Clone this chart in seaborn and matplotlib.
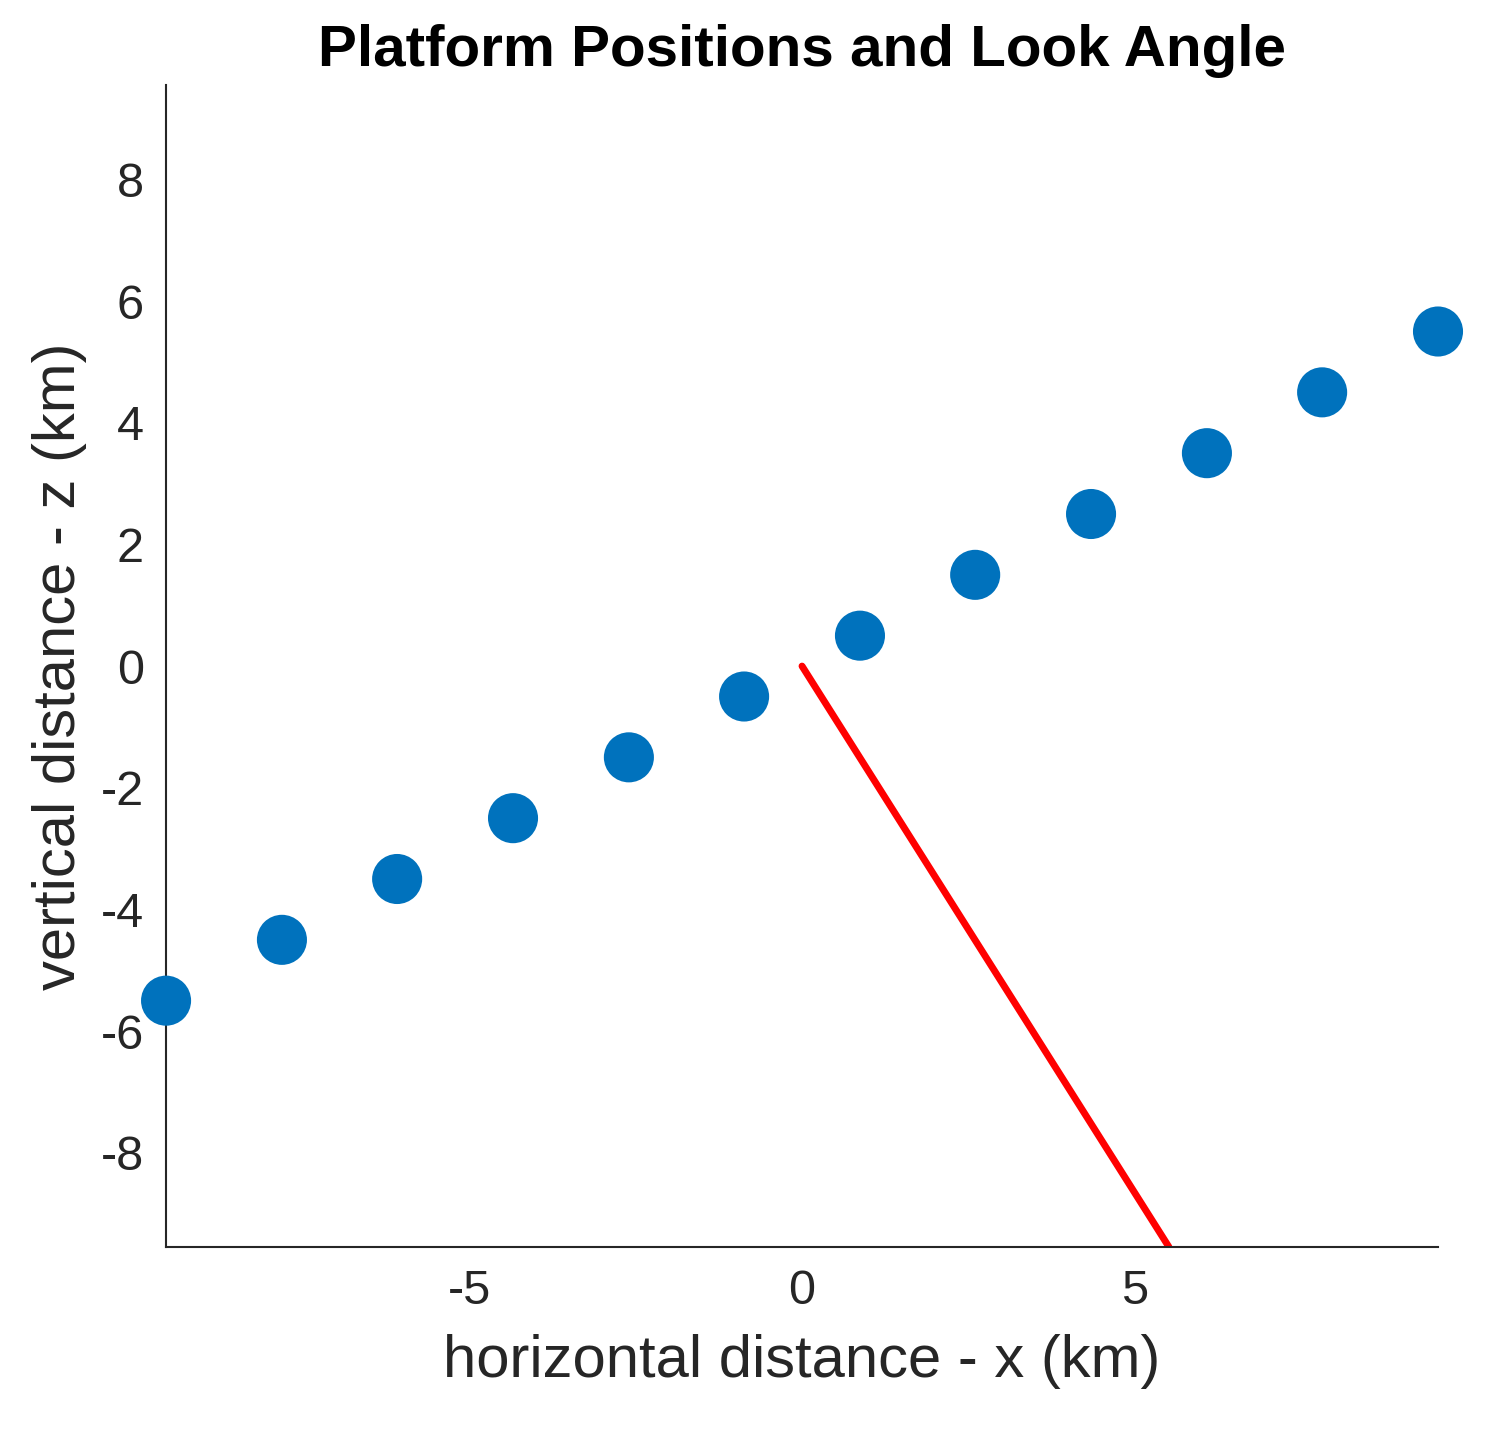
import matplotlib
matplotlib.use("Agg")
import matplotlib.pyplot as plt
import seaborn as sns
import pandas as pd

# platform positions (km)
x_pos = [-9.55, -7.81, -6.08, -4.34, -2.60, -0.87, 0.87, 2.60, 4.34, 6.08, 7.81, 9.55]
z_pos = [-5.5, -4.5, -3.5, -2.5, -1.5, -0.5, 0.5, 1.5, 2.5, 3.5, 4.5, 5.5]
# look angle line
look_x = [0.0, 5.51]
look_z = [0.0, -9.55]

sns.set_style("white")
plt.rcParams['font.family'] = ['Liberation Sans', 'DejaVu Sans']

fig = plt.figure(figsize=(14.88, 14.43), dpi=100)
ax = fig.add_axes([0.1116, 0.1358, 0.8548, 0.8052])

df = pd.DataFrame({"x": x_pos, "z": z_pos})
sns.scatterplot(data=df, x="x", y="z", ax=ax, s=1300, color="#0072BD",
                edgecolor="none", clip_on=False, zorder=3)
sns.lineplot(x=look_x, y=look_z, ax=ax, color="#FF0000", linewidth=5, zorder=2)

ax.set_xlim(-9.55, 9.55)
ax.set_ylim(-9.55, 9.55)
ax.set_xticks([-5, 0, 5])
ax.set_yticks([-8, -6, -4, -2, 0, 2, 4, 6, 8])
ax.set_xticklabels(["-5", "0", "5"])
ax.set_yticklabels(["-8", "-6", "-4", "-2", "0", "2", "4", "6", "8"])
ax.tick_params(direction="in", length=8, width=1.5, labelsize=35, colors="#262626", pad=16)
for s in ["top", "right"]:
    ax.spines[s].set_visible(False)
for s in ["left", "bottom"]:
    ax.spines[s].set_linewidth(1.5)
    ax.spines[s].set_color("#262626")

ax.set_xlabel("horizontal distance - x (km)", fontsize=43, color="#262626", labelpad=14)
ax.set_ylabel("vertical distance - z (km)", fontsize=43, color="#262626", labelpad=10)
ax.set_title("Platform Positions and Look Angle", fontsize=42, fontweight="bold",
             color="black", pad=14)

fig.savefig("out.png", dpi=100)
